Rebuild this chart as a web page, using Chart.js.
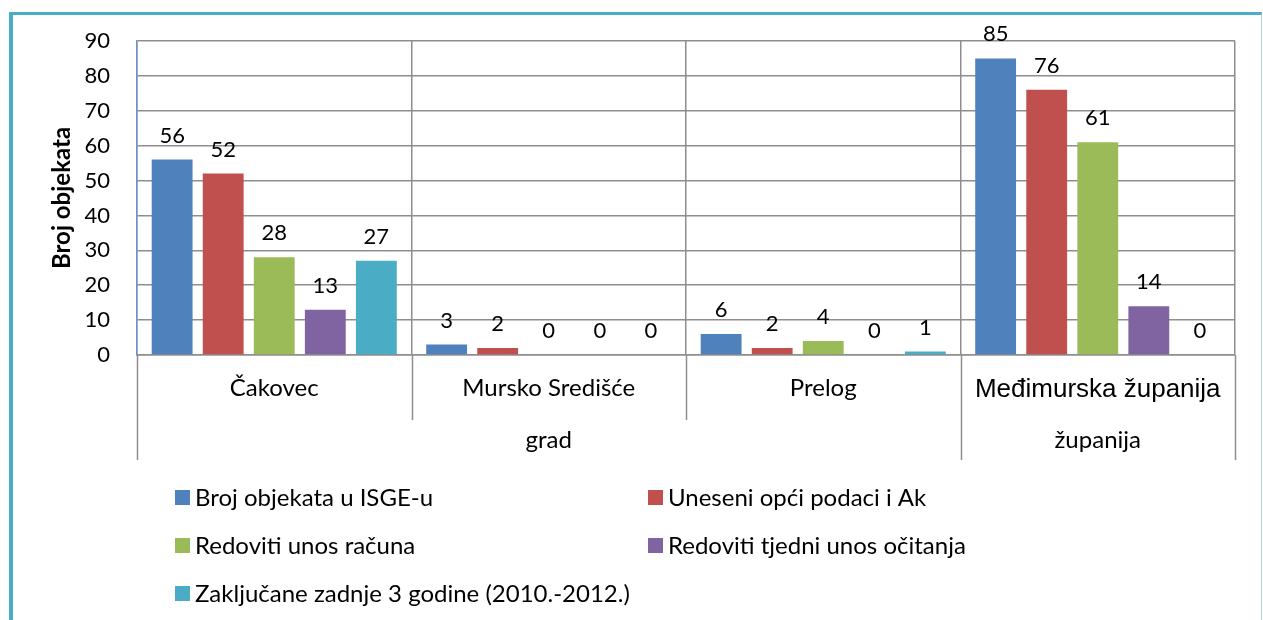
<!DOCTYPE html>
<html>
<head>
<meta charset="utf-8">
<script src="https://cdn.jsdelivr.net/npm/chart.js@4.4.0/dist/chart.umd.min.js"></script>
<style>
  html, body { margin: 0; padding: 0; background: #fff; }
  #wrap { position: relative; width: 1263px; height: 620px; overflow: hidden; }
  #frame {
    position: absolute; left: 9px; top: 12px; width: 1253px; height: 700px;
    box-sizing: border-box;
    border-left: 4px solid #4bacc6; border-top: 3px solid #4bacc6; border-right: 1px solid #a8d6e3;
  }
  canvas { position: absolute; left: 0; top: 0; }
</style>
</head>
<body>
<div id="wrap">
  <div id="frame"></div>
  <canvas id="chart" width="1263" height="620"></canvas>
</div>
<script>
// Données
const categories = ['Čakovec', 'Mursko Središće', 'Prelog', 'Međimurska županija'];
const groupLabels = ['grad', 'županija'];
const groupSizes = [3, 1];

const seriesNames = [
    'Broj objekata u ISGE-u',
    'Uneseni opći podaci i Ak',
    'Redoviti unos računa',
    'Redoviti tjedni unos očitanja',
    'Zaključane zadnje 3 godine (2010.-2012.)'
];
const brojObjekata = [56, 3, 6, 85];
const uneseniPodaci = [52, 2, 2, 76];
const unosRacuna = [28, 0, 4, 61];
const unosOcitanja = [13, 0, 0, 14];
const zakljucane = [27, 0, 1, 0];

const yTicks = [0, 10, 20, 30, 40, 50, 60, 70, 80, 90];

// Couleurs
const colors = ['#4f81bd', '#c0504d', '#9bbb59', '#8064a2', '#4bacc6'];
const gridColor = '#8e8e8e';
const baseFont = 'Lato';

// Étiquettes de valeurs au-dessus des barres
const valueLabels = {
    id: 'valueLabels',
    afterDatasetsDraw(chart) {
        const ctx = chart.ctx;
        ctx.save();
        ctx.font = '22px ' + baseFont;
        ctx.fillStyle = '#000';
        ctx.textAlign = 'center';
        ctx.textBaseline = 'alphabetic';
        chart.data.datasets.forEach((ds, i) => {
            chart.getDatasetMeta(i).data.forEach((bar, j) => {
                ctx.fillText(ds.data[j], bar.x, bar.y - 17);
            });
        });
        ctx.restore();
    }
};

// Axe à deux niveaux (grad / županija) sous l'axe X
const groupAxis = {
    id: 'groupAxis',
    afterDraw(chart) {
        const { ctx, chartArea } = chart;
        const step = (chartArea.right - chartArea.left) / categories.length;
        const edge = i => chartArea.left + i * step;

        // bords des groupes
        const groupEdges = [0];
        groupSizes.forEach(n => groupEdges.push(groupEdges[groupEdges.length - 1] + n));

        ctx.save();
        ctx.strokeStyle = gridColor;
        ctx.lineWidth = 1.5;
        for (let i = 0; i <= categories.length; i++) {
            const long = groupEdges.includes(i);
            const x = Math.round(edge(i)) + 0.5;
            ctx.beginPath();
            ctx.moveTo(x, chartArea.bottom);
            ctx.lineTo(x, long ? 460 : 420);
            ctx.stroke();
        }

        ctx.fillStyle = '#000';
        ctx.textAlign = 'center';
        ctx.textBaseline = 'middle';
        ctx.font = '24px ' + baseFont;
        groupLabels.forEach((label, g) => {
            const cx = (edge(groupEdges[g]) + edge(groupEdges[g + 1])) / 2;
            ctx.fillText(label, cx, 440);
        });

        ctx.restore();
    }
};

// Légende sur deux colonnes
const twoColumnLegend = {
    id: 'twoColumnLegend',
    afterDraw(chart) {
        const ctx = chart.ctx;
        const colX = [175, 648];
        const rowY = [497, 545, 593];
        ctx.save();
        ctx.font = '24px ' + baseFont;
        ctx.textAlign = 'left';
        ctx.textBaseline = 'middle';
        chart.data.datasets.forEach((ds, i) => {
            const x = colX[i % 2];
            const y = rowY[Math.floor(i / 2)];
            ctx.fillStyle = ds.backgroundColor;
            ctx.fillRect(x, y - 7, 15, 15);
            ctx.fillStyle = '#000';
            ctx.fillText(ds.label, x + 20, y + 1);
        });
        ctx.restore();
    }
};

const seriesValues = [brojObjekata, uneseniPodaci, unosRacuna, unosOcitanja, zakljucane];

const ctx = document.getElementById('chart').getContext('2d');
const chartInstance = new Chart(ctx, {
    type: 'bar',
    data: {
        labels: categories,
        datasets: seriesNames.map((name, i) => ({
            label: name,
            data: seriesValues[i],
            backgroundColor: colors[i],
            borderWidth: 0,
            categoryPercentage: 0.93,
            barPercentage: 0.8
        }))
    },
    options: {
        responsive: false,
        animation: false,
        devicePixelRatio: 1,
        layout: {
            padding: { left: 0, top: 41, right: 28, bottom: 0 }
        },
        plugins: {
            legend: { display: false },
            tooltip: { enabled: false }
        },
        scales: {
            x: {
                grid: {
                    color: gridColor,
                    lineWidth: 1.5,
                    drawTicks: false,
                    offset: true
                },
                border: { color: gridColor, width: 1.5 },
                ticks: {
                    color: '#000',
                    padding: 19,
                    maxRotation: 0,
                    autoSkip: false,
                    font: function(context) {
                        // le dernier libellé est en Arial dans l'original
                        if (context.index === 3) {
                            return { family: 'Liberation Sans', size: 26 };
                        }
                        return { family: baseFont, size: 24 };
                    }
                },
                afterFit: function(scale) {
                    scale.height = 265;
                }
            },
            y: {
                min: 0,
                max: 90,
                afterBuildTicks: function(scale) {
                    scale.ticks = yTicks.map(v => ({ value: v }));
                },
                grid: {
                    color: gridColor,
                    lineWidth: 1.5,
                    drawTicks: false
                },
                border: { color: '#6a93cc', width: 1.5 },
                ticks: {
                    color: '#000',
                    padding: 27,
                    font: { family: baseFont, size: 22 }
                },
                title: {
                    display: true,
                    text: 'Broj objekata',
                    color: '#000',
                    font: { family: baseFont, size: 24, weight: 'bold' },
                    padding: { top: 48, bottom: 0 }
                },
                afterFit: function(scale) {
                    scale.width = 137;
                }
            }
        }
    },
    plugins: [valueLabels, groupAxis, twoColumnLegend]
});
</script>
</body>
</html>
